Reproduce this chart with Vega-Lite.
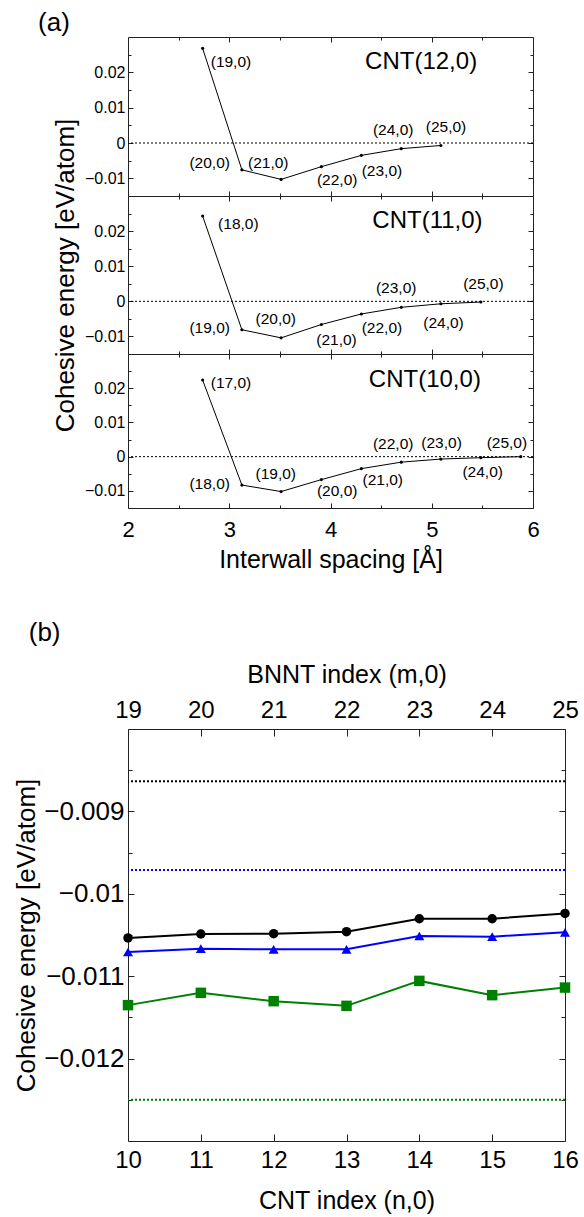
{
  "$schema": "https://vega.github.io/schema/vega-lite/v6.json",
  "padding": {"left": 13, "top": 10, "right": 5, "bottom": 5},
  "background": "white",
  "config": {
    "font": "Liberation Sans",
    "view": {"stroke": "#222", "strokeWidth": 1},
    "axis": {"domain": false, "grid": false, "tickColor": "#222", "tickWidth": 1, "labelColor": "#000", "titleColor": "#000", "titleFontWeight": "normal", "labelFlush": false, "labelOverlap": false, "labelBound": false},
    "title": {"fontWeight": "normal", "color": "#000", "anchor": "start"}
  },
  "datasets": {
    "aData": [
      {"cnt": 12, "spacing": 2.737, "E": 0.0268},
      {"cnt": 12, "spacing": 3.125, "E": -0.0076},
      {"cnt": 12, "spacing": 3.512, "E": -0.0103},
      {"cnt": 12, "spacing": 3.910, "E": -0.0067},
      {"cnt": 12, "spacing": 4.305, "E": -0.0035},
      {"cnt": 12, "spacing": 4.699, "E": -0.0016},
      {"cnt": 12, "spacing": 5.090, "E": -0.0007},
      {"cnt": 11, "spacing": 2.737, "E": 0.0243},
      {"cnt": 11, "spacing": 3.125, "E": -0.0081},
      {"cnt": 11, "spacing": 3.512, "E": -0.0104},
      {"cnt": 11, "spacing": 3.910, "E": -0.0066},
      {"cnt": 11, "spacing": 4.305, "E": -0.0036},
      {"cnt": 11, "spacing": 4.699, "E": -0.0017},
      {"cnt": 11, "spacing": 5.090, "E": -0.0007},
      {"cnt": 11, "spacing": 5.485, "E": -0.0002},
      {"cnt": 10, "spacing": 2.737, "E": 0.0224},
      {"cnt": 10, "spacing": 3.125, "E": -0.0083},
      {"cnt": 10, "spacing": 3.512, "E": -0.0102},
      {"cnt": 10, "spacing": 3.910, "E": -0.0067},
      {"cnt": 10, "spacing": 4.305, "E": -0.0035},
      {"cnt": 10, "spacing": 4.699, "E": -0.0016},
      {"cnt": 10, "spacing": 5.090, "E": -0.0007},
      {"cnt": 10, "spacing": 5.485, "E": -0.0003},
      {"cnt": 10, "spacing": 5.879, "E": 0.0}
    ],
    "aLab": [
      {"cnt": 12, "t": "(19,0)", "lx": 3.017, "ly": 0.0228},
      {"cnt": 12, "t": "(20,0)", "lx": 2.807, "ly": -0.0057},
      {"cnt": 12, "t": "(21,0)", "lx": 3.385, "ly": -0.0057},
      {"cnt": 12, "t": "(22,0)", "lx": 4.066, "ly": -0.0105},
      {"cnt": 12, "t": "(23,0)", "lx": 4.508, "ly": -0.0079},
      {"cnt": 12, "t": "(24,0)", "lx": 4.619, "ly": 0.0037},
      {"cnt": 12, "t": "(25,0)", "lx": 5.141, "ly": 0.0044},
      {"cnt": 11, "t": "(18,0)", "lx": 3.09, "ly": 0.0219},
      {"cnt": 11, "t": "(19,0)", "lx": 2.807, "ly": -0.0075},
      {"cnt": 11, "t": "(20,0)", "lx": 3.459, "ly": -0.0051},
      {"cnt": 11, "t": "(21,0)", "lx": 4.059, "ly": -0.0111},
      {"cnt": 11, "t": "(22,0)", "lx": 4.508, "ly": -0.0077},
      {"cnt": 11, "t": "(23,0)", "lx": 4.649, "ly": 0.0039},
      {"cnt": 11, "t": "(24,0)", "lx": 5.116, "ly": -0.0061},
      {"cnt": 11, "t": "(25,0)", "lx": 5.51, "ly": 0.0048},
      {"cnt": 10, "t": "(17,0)", "lx": 3.017, "ly": 0.0214},
      {"cnt": 10, "t": "(18,0)", "lx": 2.807, "ly": -0.008},
      {"cnt": 10, "t": "(19,0)", "lx": 3.459, "ly": -0.0051},
      {"cnt": 10, "t": "(20,0)", "lx": 4.066, "ly": -0.0099},
      {"cnt": 10, "t": "(21,0)", "lx": 4.516, "ly": -0.0069},
      {"cnt": 10, "t": "(22,0)", "lx": 4.619, "ly": 0.0036},
      {"cnt": 10, "t": "(23,0)", "lx": 5.097, "ly": 0.0041},
      {"cnt": 10, "t": "(24,0)", "lx": 5.503, "ly": -0.0044},
      {"cnt": 10, "t": "(25,0)", "lx": 5.742, "ly": 0.0041}
    ],
    "aTitle": [
      {"cnt": 12, "t": "CNT(12,0)", "lx": 4.895, "ly": 0.0228},
      {"cnt": 11, "t": "CNT(11,0)", "lx": 4.958, "ly": 0.0228},
      {"cnt": 10, "t": "CNT(10,0)", "lx": 4.932, "ly": 0.0224}
    ],
    "bData": [
      {"series": "A", "n": 10, "m": 19, "E": -0.010536},
      {"series": "A", "n": 11, "m": 20, "E": -0.010488},
      {"series": "A", "n": 12, "m": 21, "E": -0.010484},
      {"series": "A", "n": 13, "m": 22, "E": -0.01046},
      {"series": "A", "n": 14, "m": 23, "E": -0.010303},
      {"series": "A", "n": 15, "m": 24, "E": -0.010303},
      {"series": "A", "n": 16, "m": 25, "E": -0.010238},
      {"series": "B", "n": 10, "m": 19, "E": -0.010706},
      {"series": "B", "n": 11, "m": 20, "E": -0.010666},
      {"series": "B", "n": 12, "m": 21, "E": -0.010674},
      {"series": "B", "n": 13, "m": 22, "E": -0.010674},
      {"series": "B", "n": 14, "m": 23, "E": -0.010512},
      {"series": "B", "n": 15, "m": 24, "E": -0.01052},
      {"series": "B", "n": 16, "m": 25, "E": -0.010468},
      {"series": "C", "n": 10, "m": 19, "E": -0.011351},
      {"series": "C", "n": 11, "m": 20, "E": -0.011202},
      {"series": "C", "n": 12, "m": 21, "E": -0.011303},
      {"series": "C", "n": 13, "m": 22, "E": -0.01136},
      {"series": "C", "n": 14, "m": 23, "E": -0.011057},
      {"series": "C", "n": 15, "m": 24, "E": -0.01123},
      {"series": "C", "n": 16, "m": 25, "E": -0.011138}
    ],
    "bRef": [
      {"series": "A", "E": -0.008633},
      {"series": "B", "E": -0.00971},
      {"series": "C", "E": -0.0125}
    ]
  },
  "vconcat": [
    {
      "title": {"text": "(a)", "fontSize": 26, "offset": 0, "frame": "bounds", "dx": -14},
      "spacing": 0,
      "bounds": "flush",
      "vconcat": [
        {
          "width": 405, "height": 159,
          "layer": [
            {"data": {"values": [{"zero": 0}]}, "mark": {"type": "rule", "strokeDash": [2, 2], "strokeWidth": 1, "color": "#000"},
             "encoding": {"y": {"field": "zero", "type": "quantitative", "scale": {"domain": [-0.015, 0.03], "nice": false, "zero": false}, "axis": null}}},
            {"data": {"name": "aData"}, "transform": [{"filter": "datum.cnt === 12"}], "mark": {"type": "line", "color": "#000", "strokeWidth": 1},
             "encoding": {
               "x": {"field": "spacing", "type": "quantitative", "scale": {"domain": [2, 6], "nice": false, "zero": false},
                     "axis": {"orient": "bottom", "values": [2.5, 3, 3.5, 4, 4.5, 5, 5.5], "tickSize": {"condition": {"test": "datum.value % 1 === 0", "value": -5}, "value": -3}, "labels": false, "title": null}},
               "y": {"field": "E", "type": "quantitative", "scale": {"domain": [-0.015, 0.03], "nice": false, "zero": false},
                     "axis": {"orient": "left", "values": [-0.01, -0.005, 0, 0.005, 0.01, 0.015, 0.02, 0.025], "tickSize": {"condition": {"test": "abs(datum.value*100 - round(datum.value*100)) < 0.000001", "value": -5}, "value": -3}, "labelExpr": "abs(datum.value*100 - round(datum.value*100)) < 0.000001 ? format(datum.value, '~g') : ''", "labelFontSize": 16, "labelPadding": 8, "title": null}}
             }},
            {"data": {"name": "aData"}, "transform": [{"filter": "datum.cnt === 12"}], "mark": {"type": "point", "filled": true, "color": "#000", "size": 10, "opacity": 1},
             "encoding": {
               "x": {"field": "spacing", "type": "quantitative", "scale": {"domain": [2, 6], "nice": false, "zero": false},
                     "axis": {"orient": "top", "values": [2.5, 3, 3.5, 4, 4.5, 5, 5.5], "tickSize": {"condition": {"test": "datum.value % 1 === 0", "value": -5}, "value": -3}, "labels": false, "title": null}},
               "y": {"field": "E", "type": "quantitative", "scale": {"domain": [-0.015, 0.03], "nice": false, "zero": false},
                     "axis": {"orient": "right", "values": [-0.01, -0.005, 0, 0.005, 0.01, 0.015, 0.02, 0.025], "tickSize": {"condition": {"test": "abs(datum.value*100 - round(datum.value*100)) < 0.000001", "value": -5}, "value": -3}, "labels": false, "title": null}}
             }},
            {"data": {"name": "aLab"}, "transform": [{"filter": "datum.cnt === 12"}], "mark": {"type": "text", "fontSize": 15.5, "color": "#000", "align": "center", "baseline": "middle"},
             "encoding": {
               "x": {"field": "lx", "type": "quantitative", "scale": {"domain": [2, 6], "nice": false, "zero": false}, "axis": null},
               "y": {"field": "ly", "type": "quantitative", "scale": {"domain": [-0.015, 0.03], "nice": false, "zero": false}, "axis": null},
               "text": {"field": "t"}
             }},
            {"data": {"name": "aTitle"}, "transform": [{"filter": "datum.cnt === 12"}], "mark": {"type": "text", "fontSize": 24, "color": "#000", "align": "center", "baseline": "middle"},
             "encoding": {
               "x": {"field": "lx", "type": "quantitative", "scale": {"domain": [2, 6], "nice": false, "zero": false}, "axis": null},
               "y": {"field": "ly", "type": "quantitative", "scale": {"domain": [-0.015, 0.03], "nice": false, "zero": false}, "axis": null},
               "text": {"field": "t"}
             }}
          ],
          "resolve": {"scale": {"x": "independent", "y": "independent"}, "axis": {"x": "independent", "y": "independent"}}
        },
        {
          "width": 405, "height": 158,
          "layer": [
            {"data": {"values": [{"zero": 0}]}, "mark": {"type": "rule", "strokeDash": [2, 2], "strokeWidth": 1, "color": "#000"},
             "encoding": {"y": {"field": "zero", "type": "quantitative", "scale": {"domain": [-0.015, 0.03], "nice": false, "zero": false}, "axis": null}}},
            {"data": {"name": "aData"}, "transform": [{"filter": "datum.cnt === 11"}], "mark": {"type": "line", "color": "#000", "strokeWidth": 1},
             "encoding": {
               "x": {"field": "spacing", "type": "quantitative", "scale": {"domain": [2, 6], "nice": false, "zero": false},
                     "axis": {"orient": "bottom", "values": [2.5, 3, 3.5, 4, 4.5, 5, 5.5], "tickSize": {"condition": {"test": "datum.value % 1 === 0", "value": -5}, "value": -3}, "labels": false, "title": null}},
               "y": {"field": "E", "type": "quantitative", "scale": {"domain": [-0.015, 0.03], "nice": false, "zero": false},
                     "axis": {"orient": "left", "values": [-0.01, -0.005, 0, 0.005, 0.01, 0.015, 0.02, 0.025], "tickSize": {"condition": {"test": "abs(datum.value*100 - round(datum.value*100)) < 0.000001", "value": -5}, "value": -3}, "labelExpr": "abs(datum.value*100 - round(datum.value*100)) < 0.000001 ? format(datum.value, '~g') : ''", "labelFontSize": 16, "labelPadding": 8, "title": "Cohesive energy [eV/atom]", "titleFontSize": 26, "titlePadding": 6}}
             }},
            {"data": {"name": "aData"}, "transform": [{"filter": "datum.cnt === 11"}], "mark": {"type": "point", "filled": true, "color": "#000", "size": 10, "opacity": 1},
             "encoding": {
               "x": {"field": "spacing", "type": "quantitative", "scale": {"domain": [2, 6], "nice": false, "zero": false},
                     "axis": {"orient": "top", "values": [2.5, 3, 3.5, 4, 4.5, 5, 5.5], "tickSize": {"condition": {"test": "datum.value % 1 === 0", "value": -5}, "value": -3}, "labels": false, "title": null}},
               "y": {"field": "E", "type": "quantitative", "scale": {"domain": [-0.015, 0.03], "nice": false, "zero": false},
                     "axis": {"orient": "right", "values": [-0.01, -0.005, 0, 0.005, 0.01, 0.015, 0.02, 0.025], "tickSize": {"condition": {"test": "abs(datum.value*100 - round(datum.value*100)) < 0.000001", "value": -5}, "value": -3}, "labels": false, "title": null}}
             }},
            {"data": {"name": "aLab"}, "transform": [{"filter": "datum.cnt === 11"}], "mark": {"type": "text", "fontSize": 15.5, "color": "#000", "align": "center", "baseline": "middle"},
             "encoding": {
               "x": {"field": "lx", "type": "quantitative", "scale": {"domain": [2, 6], "nice": false, "zero": false}, "axis": null},
               "y": {"field": "ly", "type": "quantitative", "scale": {"domain": [-0.015, 0.03], "nice": false, "zero": false}, "axis": null},
               "text": {"field": "t"}
             }},
            {"data": {"name": "aTitle"}, "transform": [{"filter": "datum.cnt === 11"}], "mark": {"type": "text", "fontSize": 24, "color": "#000", "align": "center", "baseline": "middle"},
             "encoding": {
               "x": {"field": "lx", "type": "quantitative", "scale": {"domain": [2, 6], "nice": false, "zero": false}, "axis": null},
               "y": {"field": "ly", "type": "quantitative", "scale": {"domain": [-0.015, 0.03], "nice": false, "zero": false}, "axis": null},
               "text": {"field": "t"}
             }}
          ],
          "resolve": {"scale": {"x": "independent", "y": "independent"}, "axis": {"x": "independent", "y": "independent"}}
        },
        {
          "width": 405, "height": 154,
          "layer": [
            {"data": {"values": [{"zero": 0}]}, "mark": {"type": "rule", "strokeDash": [2, 2], "strokeWidth": 1, "color": "#000"},
             "encoding": {"y": {"field": "zero", "type": "quantitative", "scale": {"domain": [-0.015, 0.03], "nice": false, "zero": false}, "axis": null}}},
            {"data": {"name": "aData"}, "transform": [{"filter": "datum.cnt === 10"}], "mark": {"type": "line", "color": "#000", "strokeWidth": 1},
             "encoding": {
               "x": {"field": "spacing", "type": "quantitative", "scale": {"domain": [2, 6], "nice": false, "zero": false},
                     "axis": {"orient": "bottom", "values": [2, 2.5, 3, 3.5, 4, 4.5, 5, 5.5, 6], "tickSize": {"condition": {"test": "datum.value % 1 === 0", "value": -5}, "value": -3}, "labelExpr": "datum.value % 1 === 0 ? format(datum.value, 'd') : ''", "labelFontSize": 22, "labelPadding": 16, "title": "Interwall spacing [Å]", "titleFontSize": 25, "titlePadding": 5}},
               "y": {"field": "E", "type": "quantitative", "scale": {"domain": [-0.015, 0.03], "nice": false, "zero": false},
                     "axis": {"orient": "left", "values": [-0.01, -0.005, 0, 0.005, 0.01, 0.015, 0.02, 0.025], "tickSize": {"condition": {"test": "abs(datum.value*100 - round(datum.value*100)) < 0.000001", "value": -5}, "value": -3}, "labelExpr": "abs(datum.value*100 - round(datum.value*100)) < 0.000001 ? format(datum.value, '~g') : ''", "labelFontSize": 16, "labelPadding": 8, "title": null}}
             }},
            {"data": {"name": "aData"}, "transform": [{"filter": "datum.cnt === 10"}], "mark": {"type": "point", "filled": true, "color": "#000", "size": 10, "opacity": 1},
             "encoding": {
               "x": {"field": "spacing", "type": "quantitative", "scale": {"domain": [2, 6], "nice": false, "zero": false},
                     "axis": {"orient": "top", "values": [2.5, 3, 3.5, 4, 4.5, 5, 5.5], "tickSize": {"condition": {"test": "datum.value % 1 === 0", "value": -5}, "value": -3}, "labels": false, "title": null}},
               "y": {"field": "E", "type": "quantitative", "scale": {"domain": [-0.015, 0.03], "nice": false, "zero": false},
                     "axis": {"orient": "right", "values": [-0.01, -0.005, 0, 0.005, 0.01, 0.015, 0.02, 0.025], "tickSize": {"condition": {"test": "abs(datum.value*100 - round(datum.value*100)) < 0.000001", "value": -5}, "value": -3}, "labels": false, "title": null}}
             }},
            {"data": {"name": "aLab"}, "transform": [{"filter": "datum.cnt === 10"}], "mark": {"type": "text", "fontSize": 15.5, "color": "#000", "align": "center", "baseline": "middle"},
             "encoding": {
               "x": {"field": "lx", "type": "quantitative", "scale": {"domain": [2, 6], "nice": false, "zero": false}, "axis": null},
               "y": {"field": "ly", "type": "quantitative", "scale": {"domain": [-0.015, 0.03], "nice": false, "zero": false}, "axis": null},
               "text": {"field": "t"}
             }},
            {"data": {"name": "aTitle"}, "transform": [{"filter": "datum.cnt === 10"}], "mark": {"type": "text", "fontSize": 24, "color": "#000", "align": "center", "baseline": "middle"},
             "encoding": {
               "x": {"field": "lx", "type": "quantitative", "scale": {"domain": [2, 6], "nice": false, "zero": false}, "axis": null},
               "y": {"field": "ly", "type": "quantitative", "scale": {"domain": [-0.015, 0.03], "nice": false, "zero": false}, "axis": null},
               "text": {"field": "t"}
             }}
          ],
          "resolve": {"scale": {"x": "independent", "y": "independent"}, "axis": {"x": "independent", "y": "independent"}}
        }
      ]
    },
    {
      "title": {"text": "(b)", "fontSize": 26, "offset": 16, "frame": "bounds", "dx": 15},
      "width": 437, "height": 412,
      "layer": [
        {"data": {"name": "bRef"}, "mark": {"type": "rule", "strokeDash": [2, 2], "strokeWidth": 2},
         "encoding": {
           "y": {"field": "E", "type": "quantitative", "scale": {"domain": [-0.013, -0.008], "nice": false, "zero": false}, "axis": null},
           "color": {"field": "series", "type": "nominal", "scale": {"domain": ["A", "B", "C"], "range": ["#000000", "#0000ff", "#008000"]}, "legend": null}
         }},
        {"data": {"name": "bData"}, "mark": {"type": "line", "strokeWidth": 2},
         "encoding": {
           "x": {"field": "n", "type": "quantitative", "scale": {"domain": [10, 16], "nice": false, "zero": false},
                 "axis": {"orient": "bottom", "values": [10, 11, 12, 13, 14, 15, 16], "tickSize": -7, "labelExpr": "format(datum.value, 'd')", "labelFontSize": 24, "labelPadding": 14, "title": "CNT index (n,0)", "titleFontSize": 25, "titlePadding": 16}},
           "y": {"field": "E", "type": "quantitative", "scale": {"domain": [-0.013, -0.008], "nice": false, "zero": false},
                 "axis": {"orient": "left", "values": [-0.0125, -0.012, -0.0115, -0.011, -0.0105, -0.01, -0.0095, -0.009, -0.0085], "tickSize": {"condition": {"test": "abs(datum.value*1000 - round(datum.value*1000)) < 0.000001", "value": -6}, "value": -4}, "labelExpr": "abs(datum.value*1000 - round(datum.value*1000)) < 0.000001 ? format(datum.value, '~g') : ''", "labelFontSize": 26, "labelPadding": 10, "title": "Cohesive energy [eV/atom]", "titleFontSize": 26, "titlePadding": 4}},
           "color": {"field": "series", "type": "nominal", "scale": {"domain": ["A", "B", "C"], "range": ["#000000", "#0000ff", "#008000"]}, "legend": null}
         }},
        {"data": {"name": "bData"}, "mark": {"type": "point", "filled": true, "opacity": 1},
         "encoding": {
           "x": {"field": "n", "type": "quantitative", "scale": {"domain": [10, 16], "nice": false, "zero": false}, "axis": null},
           "y": {"field": "E", "type": "quantitative", "scale": {"domain": [-0.013, -0.008], "nice": false, "zero": false},
                 "axis": {"orient": "right", "values": [-0.0125, -0.012, -0.0115, -0.011, -0.0105, -0.01, -0.0095, -0.009, -0.0085], "tickSize": {"condition": {"test": "abs(datum.value*1000 - round(datum.value*1000)) < 0.000001", "value": -6}, "value": -4}, "labels": false, "title": null}},
           "color": {"field": "series", "type": "nominal", "scale": {"domain": ["A", "B", "C"], "range": ["#000000", "#0000ff", "#008000"]}, "legend": null},
           "shape": {"field": "series", "type": "nominal", "scale": {"domain": ["A", "B", "C"], "range": ["circle", "triangle-up", "square"]}, "legend": null},
           "size": {"field": "series", "type": "nominal", "scale": {"domain": ["A", "B", "C"], "range": [90, 110, 150]}, "legend": null}
         }},
        {"data": {"name": "bData"}, "mark": {"type": "point", "opacity": 0},
         "encoding": {
           "x": {"field": "m", "type": "quantitative", "scale": {"domain": [19, 25], "nice": false, "zero": false},
                 "axis": {"orient": "top", "values": [19, 20, 21, 22, 23, 24, 25], "tickSize": -7, "labelExpr": "format(datum.value, 'd')", "labelFontSize": 24, "labelPadding": 14, "title": "BNNT index (m,0)", "titleFontSize": 25, "titlePadding": 11}},
           "y": {"field": "E", "type": "quantitative", "scale": {"domain": [-0.013, -0.008], "nice": false, "zero": false}, "axis": null}
         }}
      ],
      "resolve": {"scale": {"x": "independent", "y": "independent"}, "axis": {"x": "independent", "y": "independent"}}
    }
  ],
  "spacing": 46
}
